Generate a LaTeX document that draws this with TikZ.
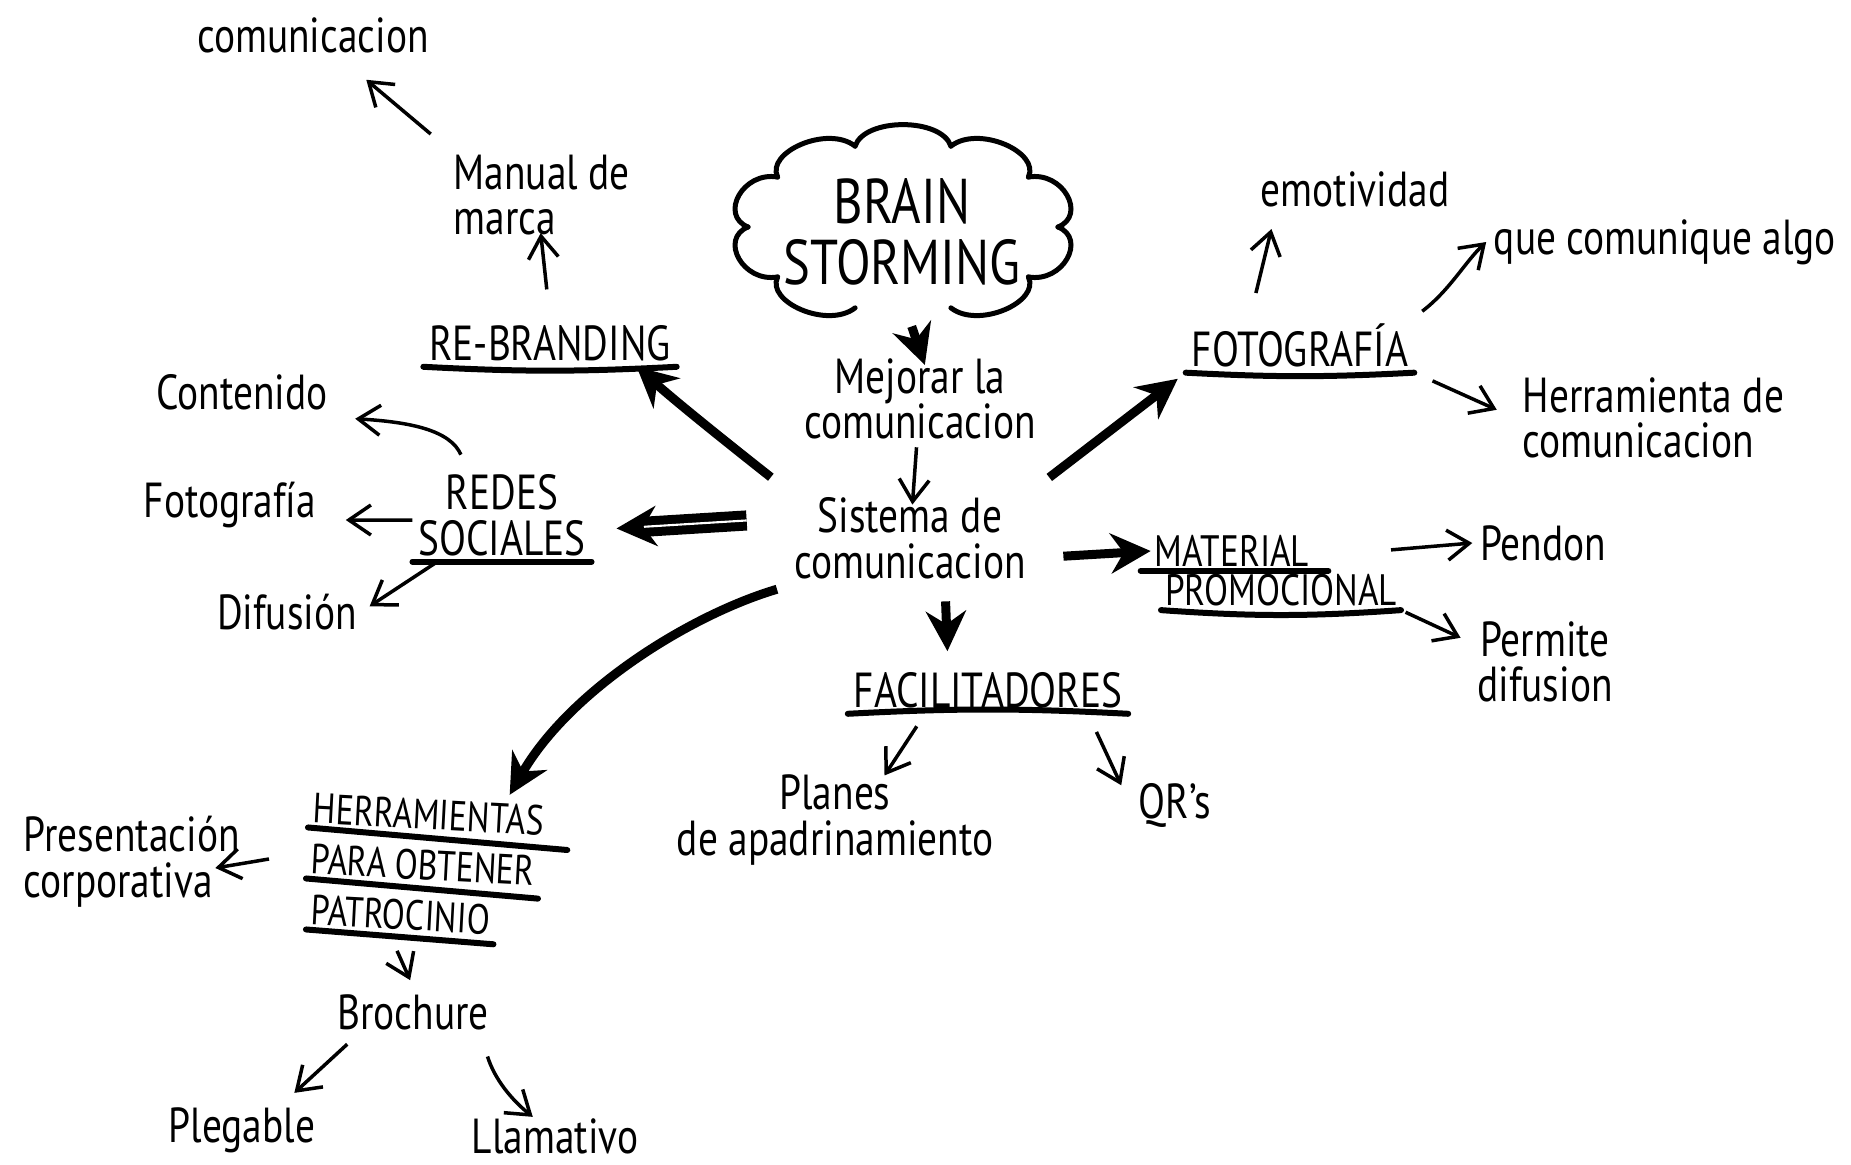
\documentclass[tikz,border=0pt]{standalone}
\usepackage{fontspec}
\setmainfont{PT Sans}[FakeStretch=0.8]
\usetikzlibrary{arrows.meta}

\tikzset{
  txt/.style={font=\fontsize{14}{13}\selectfont, align=center, inner sep=2pt},
  head/.style={font=\fontsize{14}{13}\selectfont, inner sep=1.5pt},
  smallhead/.style={font=\fontsize{12}{12}\selectfont, inner sep=1pt},
  uline/.style={line width=0.6mm, line cap=round},
  cloudline/.style={line width=0.5mm, line cap=round},
  arr/.style={line width=0.35mm, -{Straight Barb[length=2.2mm,width=3mm]}},
  bigarr/.style={line width=0.9mm, -{Stealth[length=4mm,width=4mm]}},
}

\begin{document}
\begin{tikzpicture}[x=0.1mm, y=-0.1mm]
\useasboundingbox (0,0) rectangle (1851,1165);
%%%%% START %%%%%

% centre
\node[font=\fontsize{18}{17.5}\selectfont, align=center] (brain) at (902,232) {BRAIN\\STORMING};
\foreach \a in {0,36,108,144,180,216,252,288,324}
  \draw[cloudline] ({903+155*cos(\a)},{227+85*sin(\a)})
    .. controls ({903+185*cos(\a+6)},{227+112*sin(\a+6)}) and ({903+185*cos(\a+30)},{227+112*sin(\a+30)})
    .. ({903+155*cos(\a+36)},{227+85*sin(\a+36)});
\node[txt] (mejorar) at (920,399) {Mejorar la\\comunicacion};
\node[txt] (sistema) at (910,538) {Sistema de\\comunicacion};

% re-branding
\node[head] (rebrand) at (550,343) {RE-BRANDING};
\node[txt, align=left, anchor=west] (manual) at (446,195) {Manual de\\marca};
\node[txt] (com1) at (313,35) {comunicacion};

% redes sociales
\node[head, align=center] (redes) at (502,515) {REDES\\SOCIALES};
\node[txt] (contenido) at (242,392) {Contenido};
\node[txt] (foto1) at (230,505) {Fotografía};
\node[txt] (difusion) at (287,612) {Difusión};

% fotografia
\node[head] (foto2) at (1300,345) {FOTOGRAFÍA};
\node[txt] (emot) at (1355,189) {emotividad};
\node[txt] (quecom) at (1665,242) {que comunique algo};
\node[txt, align=left, anchor=west] (herrcom) at (1515,418) {Herramienta de\\comunicacion};

% material
\node[smallhead, font=\fontsize{12.5}{12}\selectfont] (mat1) at (1232,551) {MATERIAL};
\node[smallhead, font=\fontsize{12.5}{12}\selectfont] (mat2) at (1281,590) {PROMOCIONAL};
\node[txt] (pendon) at (1543,543) {Pendon};
\node[txt] (permite) at (1545,662) {Permite\\difusion};

% facilitadores
\node[head] (facil) at (988,690) {FACILITADORES};
\node[txt] (planes) at (835,820) {Planes\\de apadrinamiento};
\node[txt] (qrs) at (1175,805) {QR's};

% herramientas
\node[smallhead, rotate=-3, anchor=west] (h1) at (309,808) {HERRAMIENTAS};
\node[smallhead, rotate=-3, anchor=west] (h2) at (307,859) {PARA OBTENER};
\node[smallhead, rotate=-3, anchor=west] (h3) at (307,910) {PATROCINIO};
\node[txt, align=left, anchor=west] (pres) at (16,862) {Presentación\\corporativa};
\node[txt] (brochure) at (413,1012) {Brochure};
\node[txt] (plegable) at (242,1130) {Plegable};
\node[txt] (llamativo) at (555,1136) {Llamativo};

% underlines
\draw[uline] (rebrand.south west) to[bend right=3] (rebrand.south east);
\draw[uline] (redes.south west) -- (redes.south east);
\draw[uline] (foto2.south west) to[bend right=3] (foto2.south east);
\draw[uline] ([xshift=-1mm]mat1.south west) -- ([xshift=1.5mm]mat1.south east);
\draw[uline] (mat2.south west) to[bend right=4] (mat2.south east);
\draw[uline] (facil.south west) to[bend left=3] (facil.south east);
\draw[uline] (h1.south west) -- ([xshift=2mm,yshift=-1mm]h1.south east);
\draw[uline] (h2.south west) -- ([yshift=-0.8mm]h2.south east);
\draw[uline] (h3.south west) -- ([yshift=-0.5mm]h3.south east);

% arrows from the centre
\draw[bigarr, shorten <=3mm, shorten >=-1.5mm] (brain.south) -- (mejorar.north);
\draw[arr, shorten >=-1.5mm] (mejorar) -- (sistema);
\draw[bigarr, shorten <=2mm] (sistema.north west) .. controls (730,445) and (680,405) .. ([xshift=-4mm]rebrand.south east);
\draw[bigarr, double, shorten <=4mm, shorten >=2.5mm] ([yshift=2mm]sistema.west) -- ([yshift=-1.5mm]redes.east);
\draw[bigarr, shorten <=2mm, shorten >=1mm] (sistema.north east) -- (foto2.south west);
\draw[bigarr, shorten <=3mm] ([yshift=-2mm]sistema.east) -- (mat1.west);
\draw[bigarr, shorten <=1.5mm, shorten >=1.5mm] ([xshift=3.5mm]sistema.south) -- ([xshift=-4mm]facil.north);
\draw[bigarr, shorten <=1mm] (sistema.south west) .. controls (690,615) and (570,690) .. ([xshift=8mm]h1.north);

% arrows to the leaves
\draw[arr, shorten <=3mm, shorten >=-1mm] (rebrand.north) -- (manual.south);
\draw[arr, shorten <=2mm, shorten >=3mm] (manual.north west) -- (com1.-40);
\draw[arr, shorten <=1.5mm, shorten >=2mm] ([xshift=-3.5mm]redes.north) .. controls (450,430) and (410,422) .. (contenido.south east);
\draw[arr, shorten >=2.2mm] ([yshift=-0.5mm]redes.west) -- ([yshift=-1.5mm]foto1.east);
\draw[arr] ([xshift=2.5mm]redes.south west) -- ([xshift=0.5mm,yshift=-2mm]difusion.north east);
\draw[arr, shorten <=2.5mm, shorten >=1.5mm] ([xshift=-5mm]foto2.north) -- ([xshift=-8mm]emot.south);
\draw[arr, shorten <=1mm] (foto2.north east) .. controls (1450,290) and (1465,262) .. (quecom.west);
\draw[arr, shorten <=2mm, shorten >=2mm] (foto2.south east) -- (herrcom.west);
\draw[arr] ([xshift=-1mm,yshift=2mm]mat2.north east) -- (pendon.west);
\draw[arr, shorten <=0.5mm, shorten >=1mm] (mat2.south east) -- ([yshift=2mm]permite.west);
\draw[arr, shorten <=1.5mm, shorten >=-1mm] ([xshift=-6.3mm]facil.south) -- ([xshift=5.5mm]planes.north);
\draw[arr, shorten <=2mm] ([xshift=10mm]facil.south) -- ([xshift=-1mm,yshift=-1mm]qrs.north west);
\draw[arr] ([xshift=-3.8mm]h2.west) -- ([xshift=-3.2mm,yshift=-0.6mm]pres.east);
\draw[arr, shorten <=1.8mm, shorten >=0.7mm] ([xshift=-1mm]h3.south) -- (brochure.north);
\draw[arr, shorten <=1mm, shorten >=1mm] ([xshift=2.5mm]brochure.south west) -- ([xshift=4.5mm]plegable.north);
\draw[arr, shorten <=2mm, shorten >=-1mm] ([xshift=-1.5mm]brochure.south east) .. controls (495,1080) and (512,1100) .. ([xshift=-3mm]llamativo.north);

%%%%% END %%%%%
\end{tikzpicture}
\end{document}
